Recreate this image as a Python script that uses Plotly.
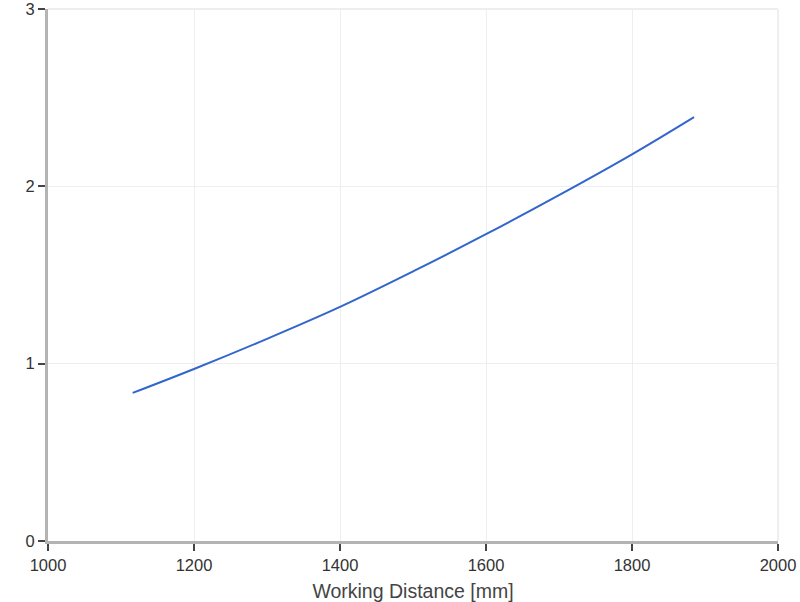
import plotly.graph_objects as go

distance_mm = [1116, 1200, 1300, 1400, 1500, 1600, 1700, 1800, 1885]
value = [0.835, 0.97, 1.14, 1.32, 1.52, 1.73, 1.95, 2.18, 2.39]

x_ticks = [1000, 1200, 1400, 1600, 1800, 2000]
y_ticks = [0, 1, 2, 3]

fig = go.Figure()
fig.add_trace(go.Scatter(
    x=distance_mm, y=value, mode="lines", line_shape="spline",
    line=dict(color="#3366cc", width=2), showlegend=False,
))

axis_common = dict(
    showline=True, linecolor="#b4b4b4", linewidth=3,
    ticks="outside", ticklen=7, tickcolor="#444444", tickwidth=1.5,
    showgrid=True, gridcolor="#eeeeee", gridwidth=1,
    zeroline=False, automargin=False, ticklabeloverflow="allow",
    tickfont=dict(family="Liberation Sans, Arial", size=16.5, color="#333333"),
)

fig.update_layout(
    width=800, height=602,
    margin=dict(l=48, r=22, t=9, b=61, autoexpand=False),
    paper_bgcolor="white", plot_bgcolor="white",
    font=dict(family="Liberation Sans, Arial", size=16.5, color="#333333"),
    xaxis=dict(range=[1000, 2000], tickvals=x_ticks,
               title=dict(text="Working Distance [mm]",
                          font=dict(size=19.5, color="#444444")), **axis_common),
    yaxis=dict(range=[0, 3], tickvals=y_ticks, **axis_common),
    shapes=[
        dict(type="line", xref="paper", yref="paper", x0=0, x1=1, y0=1, y1=1,
             line=dict(color="#eeeeee", width=2), layer="below"),
        dict(type="line", xref="paper", yref="paper", x0=1, x1=1, y0=0, y1=1,
             line=dict(color="#eeeeee", width=2), layer="below"),
    ],
)

fig.write_html("out.html", config={"displayModeBar": False},
               post_script="document.body.style.margin='0';document.body.style.overflow='hidden';")
